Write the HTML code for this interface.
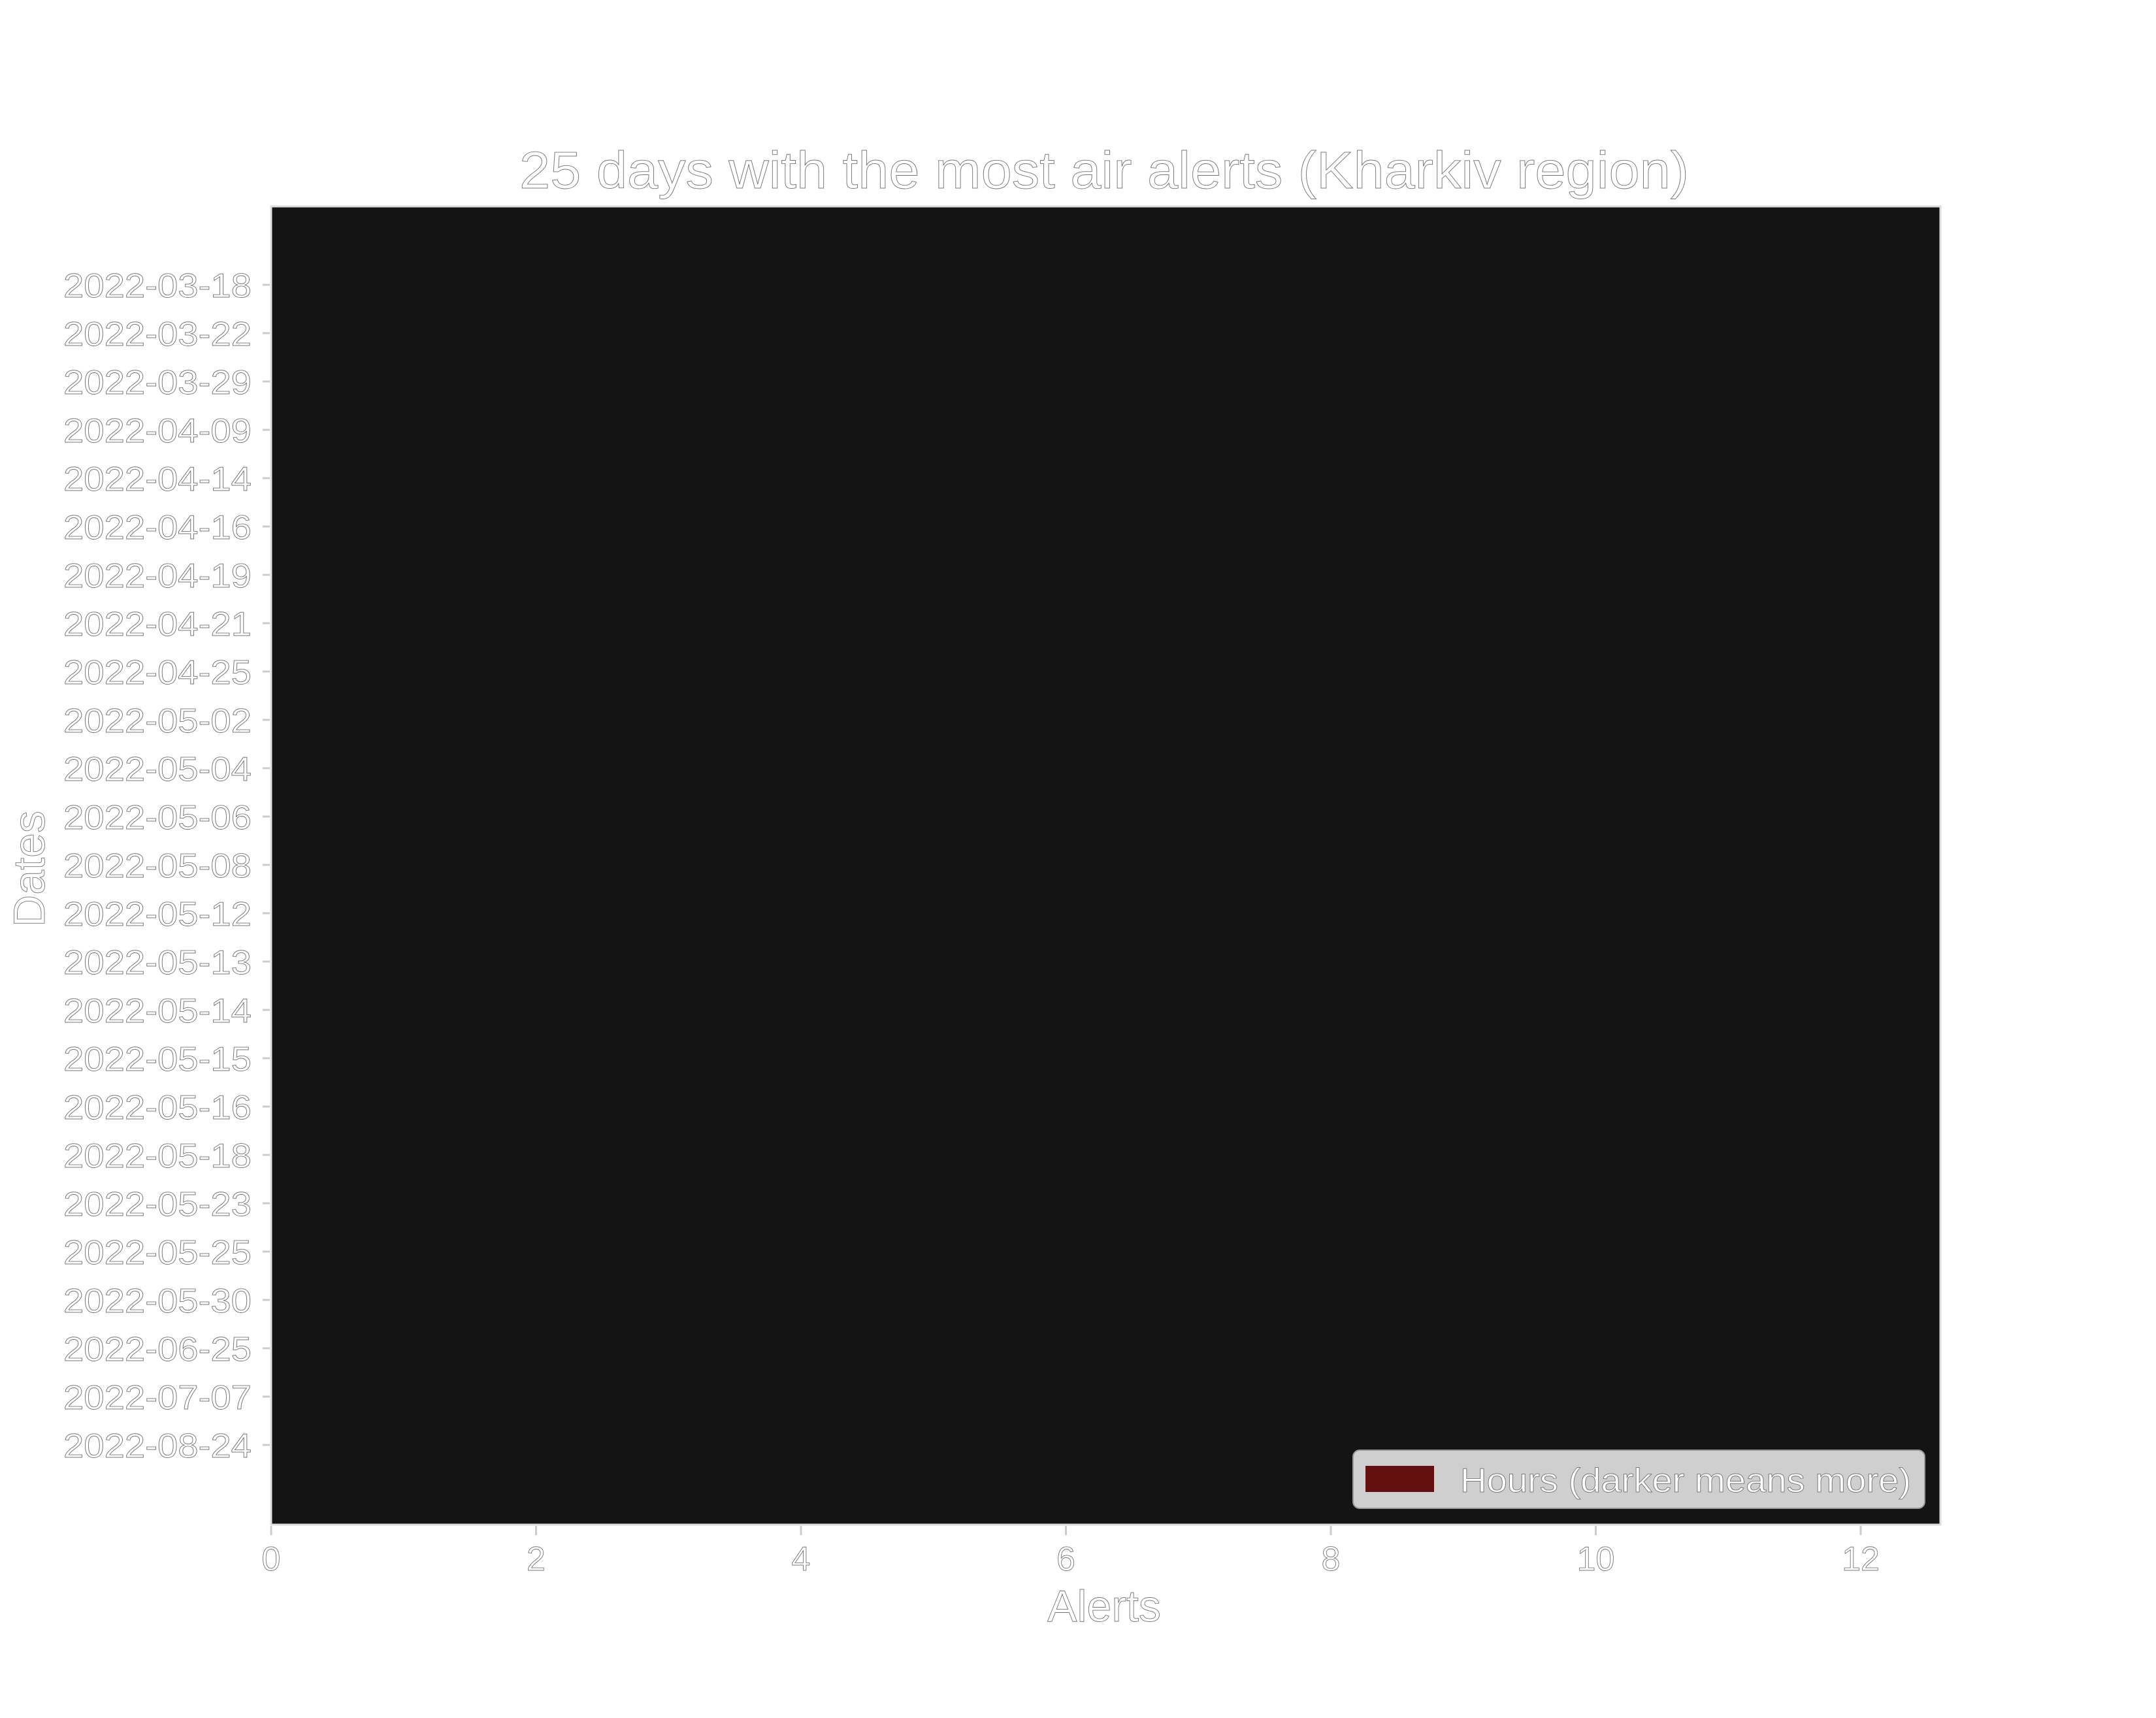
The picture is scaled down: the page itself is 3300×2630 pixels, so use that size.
<!DOCTYPE html>
<html><head><meta charset="utf-8"><style>
html,body{margin:0;padding:0;background:#fff;}
svg text{font-family:"Liberation Sans",sans-serif;fill:#fff;stroke:#777;stroke-width:0.9px;}
</style></head><body>
<svg id="chart" xmlns="http://www.w3.org/2000/svg" width="3300" height="2625" viewBox="0 0 3300 2625">
<rect x="0" y="0" width="3300" height="2625" fill="#fff"/>
<text x="1690" y="288" font-size="80" text-anchor="middle" textLength="1790" lengthAdjust="spacingAndGlyphs">25 days with the most air alerts (Kharkiv region)</text>
<rect x="415" y="316" width="2555" height="2018" fill="#141414" stroke="#ddd" stroke-width="3"/>
<g id="bars"></g>
<g id="yaxis"></g>
<g id="xaxis"></g>
<text x="1690" y="2482" font-size="68" text-anchor="middle">Alerts</text>
<text transform="translate(68,1330) rotate(-90)" font-size="68" text-anchor="middle">Dates</text>
<g>
<rect x="2071" y="2220" width="875" height="89" rx="10" fill="#cfcfcf" stroke="#999" stroke-width="2"/>
<rect x="2090" y="2244" width="105" height="40" fill="#641010"/>
<text x="2235" y="2284" font-size="52" textLength="690" lengthAdjust="spacingAndGlyphs">Hours (darker means more)</text>
</g>
</svg>
<script>
const dates = ["2022-03-18","2022-03-22","2022-03-29","2022-04-09","2022-04-14","2022-04-16","2022-04-19","2022-04-21","2022-04-25","2022-05-02","2022-05-04","2022-05-06","2022-05-08","2022-05-12","2022-05-13","2022-05-14","2022-05-15","2022-05-16","2022-05-18","2022-05-23","2022-05-25","2022-05-30","2022-06-25","2022-07-07","2022-08-24"];
const alerts = [0,0,0,0,0,0,0,0,0,0,0,0,0,0,0,0,0,0,0,0,0,0,0,0,0];
const xTicks = [0,2,4,6,8,10,12];
const NS="http://www.w3.org/2000/svg";
const X0=415, XU=202.75, Y0=436, YS=74;
function xs(v){return X0+v*XU;}
function ys(i){return Y0+i*YS;}
const bars=document.getElementById('bars'), ya=document.getElementById('yaxis'), xa=document.getElementById('xaxis');
dates.forEach((d,i)=>{
  const r=document.createElementNS(NS,'rect');
  
  
  r.setAttribute('x',xs(0));r.setAttribute('y',ys(i)-29);
  r.setAttribute('width',Math.max(0,xs(alerts[i])-xs(0)));r.setAttribute('height',58);
  r.setAttribute('fill','#641010');
  bars.appendChild(r);
  const t=document.createElementNS(NS,'line');
  
  
  t.setAttribute('x1',402);t.setAttribute('x2',413);t.setAttribute('y1',ys(i));t.setAttribute('y2',ys(i));
  t.setAttribute('stroke','#ccc');t.setAttribute('stroke-width',3);
  ya.appendChild(t);
  const l=document.createElementNS(NS,'text');
  
  
  l.setAttribute('x',385);l.setAttribute('y',ys(i)+19);
  l.setAttribute('font-size','52');l.setAttribute('text-anchor','end');
  l.setAttribute('textLength','288');l.setAttribute('lengthAdjust','spacingAndGlyphs');
  l.textContent=d;ya.appendChild(l);
});
xTicks.forEach(v=>{
  const t=document.createElementNS(NS,'line');
  
  
  t.setAttribute('x1',xs(v));t.setAttribute('x2',xs(v));t.setAttribute('y1',2336);t.setAttribute('y2',2350);
  t.setAttribute('stroke','#ccc');t.setAttribute('stroke-width',3);
  xa.appendChild(t);
  const l=document.createElementNS(NS,'text');
  
  
  l.setAttribute('x',xs(v));l.setAttribute('y',2404);
  l.setAttribute('font-size','52');l.setAttribute('text-anchor','middle');
  l.textContent=v;xa.appendChild(l);
});
</script>
</body></html>
